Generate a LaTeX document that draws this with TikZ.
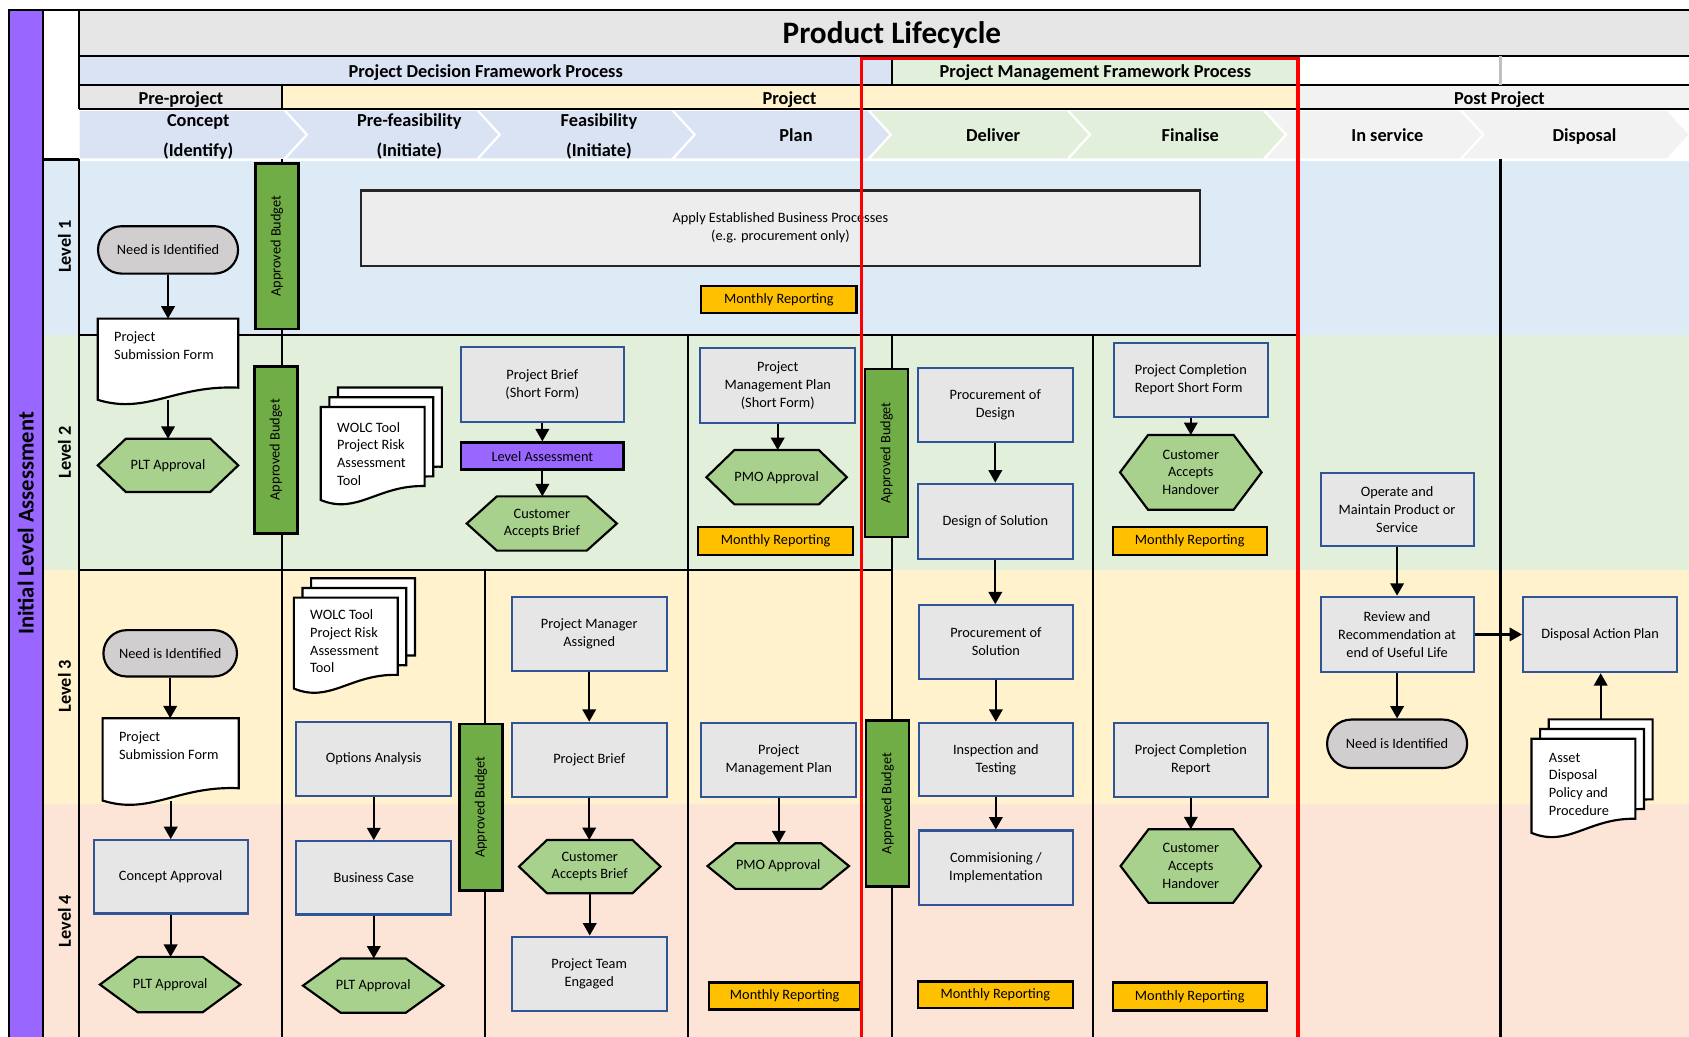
\documentclass[tikz,border=0pt]{standalone}
\usepackage{fontspec}
\setmainfont{Carlito}
\usetikzlibrary{arrows.meta,calc,shapes.misc}
\pgfdeclarelayer{bg}
\pgfdeclarelayer{outline}
\pgfdeclarelayer{front}
\pgfsetlayers{bg,outline,main,front}

\definecolor{lanepurple}{HTML}{9966FF}
\definecolor{titlegray}{HTML}{E6E6E6}
\definecolor{hdrblue}{HTML}{DAE3F3}
\definecolor{hdrgreen}{HTML}{E2EFDA}
\definecolor{hdrgray}{HTML}{E7E6E6}
\definecolor{hdrlight}{HTML}{F2F2F2}
\definecolor{hdryellow}{HTML}{FFF2CC}
\definecolor{laneone}{HTML}{DDEBF7}
\definecolor{lanetwo}{HTML}{E2EFDA}
\definecolor{lanethree}{HTML}{FFF2CC}
\definecolor{lanefour}{HTML}{FCE4D6}
\definecolor{procfill}{HTML}{E7E6E6}
\definecolor{procedge}{HTML}{2F5597}
\definecolor{hexfill}{HTML}{A9D18E}
\definecolor{budgetgreen}{HTML}{70AD47}
\definecolor{reportorange}{HTML}{FFC000}
\definecolor{pillfill}{HTML}{D0CECE}
\definecolor{applyfill}{HTML}{EDEDED}

% single document sheet with a wavy bottom edge
\newcommand\docsheet[1]{%
  \path[docline] (#1.south west) -- (#1.north west) -- (#1.north east)
    -- ($(#1.south east)!0.15!(#1.north east)$)
    .. controls ($(#1.south west)!0.55!(#1.south east)+(0,-14)$)
    and ($(#1.south west)!0.35!(#1.south east)+(0,14)$) .. (#1.south west) -- cycle;}
% stack of three sheets
\newcommand\docstack[1]{%
  \begin{scope}[transform canvas={shift={(16,-18)}}]\docsheet{#1}\end{scope}
  \begin{scope}[transform canvas={shift={(8,-9)}}]\docsheet{#1}\end{scope}
  \docsheet{#1}}
% elongated hexagon around a node
\newcommand\hexshape[2]{%
  \path[hexline] (#1.west) -- ($(#1.north west)+(#2,0)$) -- ($(#1.north east)+(-#2,0)$)
    -- (#1.east) -- ($(#1.south east)+(-#2,0)$) -- ($(#1.south west)+(#2,0)$) -- cycle;}

\begin{document}
\begin{tikzpicture}[x=1pt,y=-1pt,
  sz/.style 2 args={minimum width=#1pt, minimum height=#2pt},
  txt/.style={font=\fontsize{13.3}{16.5}\selectfont, align=center, inner sep=0pt},
  proc/.style={txt, rectangle, fill=procfill, draw=procedge, line width=2pt},
  pill/.style={txt, rounded rectangle, fill=pillfill, draw=black, line width=2pt},
  report/.style={txt, rectangle, fill=reportorange, draw=black, line width=2.2pt},
  budget/.style={txt, rectangle, fill=budgetgreen, draw=black, line width=2.5pt, rotate=90, minimum height=40pt},
  levbox/.style={txt, rectangle, fill=lanepurple, draw=black, line width=2.5pt},
  applybox/.style={txt, rectangle, fill=applyfill, draw=black!85, line width=2.2pt},
  hexn/.style={txt, rectangle},
  docn/.style={rectangle, inner sep=0pt},
  doctext/.style={txt, align=left, anchor=north west},
  hexline/.style={fill=hexfill, draw=black, line width=2pt, line join=miter},
  docline/.style={fill=white, draw=black, line width=2pt},
  arr/.style={-{Triangle[length=11.5pt,width=12.5pt]}, line width=2pt},
  hdr/.style={font=\fontsize{17}{28}\selectfont\bfseries, align=center, inner sep=0pt, anchor=base},
  lvl/.style={font=\fontsize{17}{20}\selectfont\bfseries, rotate=90, inner sep=0pt},
  rule/.style={line width=2pt, draw=black},
]
\useasboundingbox (0,0) rectangle (1568,962);

\begin{pgfonlayer}{bg}
  \fill[white] (0,0) rectangle (1568,962);
  % header rows
  \fill[titlegray] (73,9) rectangle (1575,52);
  \fill[hdrblue] (73,52) rectangle (828,79);
  \fill[hdrgreen] (828,52) rectangle (1205,79);
  \fill[hdrgray] (73,79) rectangle (262,101);
  \fill[hdryellow] (262,79) rectangle (1205,101);
  \fill[hdrlight] (1205,79) rectangle (1575,101);
  % phase chevrons
  \filldraw[fill=hdrblue, draw=white, line width=2pt]
    (73,102) -- (264,102) -- (285,125) -- (264,148) -- (73,148) -- cycle;
  \foreach \xl/\xr/\c in {264/443/hdrblue, 443/624/hdrblue, 624/806/hdrblue,
      806/991/hdrgreen, 991/1173/hdrgreen, 1173/1356/hdrlight, 1356/1548/hdrlight}{
    \filldraw[fill=\c, draw=white, line width=2pt]
      (\xl,102) -- (\xr,102) -- (\xr+21,125) -- (\xr,148) -- (\xl,148) -- (\xl+21,125) -- cycle;
  }
  % swim lanes
  \fill[laneone] (40,149) rectangle (1575,311);
  \fill[lanetwo] (40,311) rectangle (1575,529);
  \fill[lanethree] (40,529) rectangle (1575,746);
  \fill[lanefour] (40,746) rectangle (1575,975);
  % left bar
  \filldraw[fill=lanepurple, draw=black, line width=2pt] (8,9) rectangle (40,980);
  % header rules
  \draw[rule] (8,9) -- (1575,9);
  \draw[rule] (73,52) -- (1575,52);
  \draw[rule] (73,79) -- (1575,79);
  \draw[rule] (73,101) -- (1575,101);
  \draw[rule] (73,9) -- (73,101);
  \draw[rule] (262,79) -- (262,101);
  \draw[rule] (828,52) -- (828,79);
  \draw[line width=2pt, black!25] (1393,52) -- (1393,79);
  \draw[rule] (40,148) -- (73,148);
  % lane rules
  \draw[rule] (73,148) -- (73,975);
  \draw[rule] (262,148) -- (262,975);
  \draw[rule] (450,529) -- (450,975);
  \draw[rule] (639,311) -- (639,975);
  \draw[rule] (828,311) -- (828,975);
  \draw[rule] (1015,311) -- (1015,975);
  \draw[rule] (1393,148) -- (1393,975);
  \draw[rule] (73,311) -- (1205,311);
  \draw[rule] (73,529) -- (828,529);
\end{pgfonlayer}

% ---- header texts
\node[font=\fontsize{21}{24}\selectfont\bfseries, rotate=90, inner sep=0pt] (ila) at (24,486) {Initial Level Assessment};
\node[font=\fontsize{29}{32}\selectfont\bfseries, inner sep=0pt, anchor=base] (ttl) at (828,40.5) {Product Lifecycle};
\node[hdr] (pdfp) at (451,72) {Project Decision Framework Process};
\node[hdr] (pmfp) at (1017,72) {Project Management Framework Process};
\node[hdr] (prep) at (168,97) {Pre-project};
\node[hdr] (proj) at (733,97) {Project};
\node[hdr] (postp) at (1392,97) {Post Project};
\node[hdr] (ph1) at (184,145) {Concept\\(Identify)};
\node[hdr] (ph2) at (380,145) {Pre-feasibility\\(Initiate)};
\node[hdr] (ph3) at (556,145) {Feasibility\\(Initiate)};
\node[hdr] (ph4) at (739,131) {Plan};
\node[hdr] (ph5) at (922,131) {Deliver};
\node[hdr] (ph6) at (1105,131) {Finalise};
\node[hdr] (ph7) at (1288,131) {In service};
\node[hdr] (ph8) at (1471,131) {Disposal};
\node[lvl] (lv1) at (60,229) {Level 1};
\node[lvl] (lv2) at (60,420) {Level 2};
\node[lvl] (lv3) at (60,637) {Level 3};
\node[lvl] (lv4) at (60,855) {Level 4};

% ---- level 1
\node[pill, sz={130}{44}] (need1) at (156,232) {Need is Identified};
\node[docn, sz={130}{75}] (psf1) at (156,333.5) {};
\node[doctext] (psf1t) at ($(psf1.north west)+(15,12)$) {Project\\Submission Form};
\node[hexn, sz={130}{49}] (plt1) at (156,432) {PLT Approval};
\node[budget, minimum width=154pt] (ab1) at (257,228.5) {Approved Budget};
\node[applybox, sz={779}{70}] (apply) at (724.5,211.75) {Apply Established Business Processes\\(e.g. procurement only)};
\node[report, sz={144}{25}] (mr1) at (723,278) {Monthly Reporting};

% ---- level 2
\node[budget, minimum width=155pt] (ab2) at (256,417.5) {Approved Budget};
\node[docn, sz={96}{86}] (wolc2) at (346,421) {};
\node[doctext] (wolc2t) at ($(wolc2.north west)+(15,14)$) {WOLC Tool\\Project Risk\\Assessment\\Tool};
\node[proc, sz={151}{69}] (pbsf) at (503.5,357) {Project Brief\\(Short Form)};
\node[levbox, sz={151}{25}] (levass) at (503.5,423.5) {Level Assessment};
\node[hexn, sz={139}{50}] (cab2) at (503,486) {Customer\\Accepts Brief};
\node[proc, sz={144}{70}] (pmpsf) at (722,358) {Project\\Management Plan\\(Short Form)};
\node[hexn, sz={130}{50}] (pmo2) at (721,443) {PMO Approval};
\node[report, sz={144}{26}] (mr2) at (720,502) {Monthly Reporting};
\node[budget, minimum width=156pt] (ab3) at (823,420.5) {Approved Budget};
\node[proc, sz={144}{68}] (procdes) at (924,376) {Procurement of\\Design};
\node[proc, sz={144}{70}] (design) at (924,484) {Design of Solution};
\node[proc, sz={143}{68}] (pcrsf) at (1105.5,352.75) {\begin{tabular}{@{}l@{}}Project Completion\\Report Short Form\end{tabular}};
\node[hexn, sz={131}{69}] (cah2) at (1105.5,438.5) {Customer\\Accepts\\Handover};
\node[report, sz={143}{26}] (mr3) at (1104.5,502) {Monthly Reporting};
\node[proc, sz={142}{68}] (operate) at (1297,473) {Operate and\\Maintain Product or\\Service};

% ---- level 3 and 4
\node[pill, sz={124}{43}] (need3) at (158,606.5) {Need is Identified};
\node[docn, sz={126}{76}] (psf3) at (158.5,705) {};
\node[doctext] (psf3t) at ($(psf3.north west)+(15,12)$) {Project\\Submission Form};
\node[proc, sz={143}{68}] (concept) at (158.4,814) {Concept Approval};
\node[hexn, sz={130}{51}] (plt3) at (158,914) {PLT Approval};
\node[docn, sz={96}{84}] (wolc3) at (321,597) {};
\node[doctext] (wolc3t) at ($(wolc3.north west)+(15,11)$) {WOLC Tool\\Project Risk\\Assessment\\Tool};
\node[proc, sz={144}{69}] (options) at (347,704.5) {Options Analysis};
\node[proc, sz={144}{68}] (business) at (347,815) {Business Case};
\node[hexn, sz={130}{50}] (plt4) at (346.5,915) {PLT Approval};
\node[budget, minimum width=155pt] (ab4) at (446.5,749.5) {Approved Budget};
\node[proc, sz={144}{69}] (pma) at (547,588.5) {Project Manager\\Assigned};
\node[proc, sz={144}{69}] (pb) at (547,705.5) {Project Brief};
\node[hexn, sz={131}{49}] (cab3) at (547.5,804.5) {Customer\\Accepts Brief};
\node[proc, sz={144}{69}] (pte) at (547,904) {Project Team\\Engaged};
\node[proc, sz={144}{69}] (pmp3) at (723,705.5) {Project\\Management Plan};
\node[hexn, sz={131}{42}] (pmo3) at (722.5,804) {PMO Approval};
\node[report, sz={141}{25}] (mr4) at (728.5,924.5) {Monthly Reporting};
\node[budget, minimum width=154pt] (ab5) at (824,746) {Approved Budget};
\node[proc, sz={143}{68}] (procsol) at (924.5,596) {Procurement of\\Solution};
\node[proc, sz={143}{68}] (insp) at (924.5,705) {Inspection and\\Testing};
\node[proc, sz={143}{69}] (comm) at (924.5,805.5) {Commisioning /\\Implementation};
\node[report, sz={144}{25}] (mr5) at (924,923.5) {Monthly Reporting};
\node[proc, sz={143}{69}] (pcr) at (1105.5,705.5) {Project Completion\\Report};
\node[hexn, sz={130}{68}] (cah3) at (1105.5,804) {Customer\\Accepts\\Handover};
\node[report, sz={143}{26}] (mr6) at (1104.5,925) {Monthly Reporting};
\node[proc, sz={142}{70}] (review) at (1297,589) {Review and\\Recommendation at\\end of Useful Life};
\node[proc, sz={143}{70}] (disposal) at (1485.5,589) {Disposal Action Plan};
\node[pill, sz={130}{45}] (need5) at (1297,690.5) {Need is Identified};
\node[docn, sz={96}{87}] (asset) at (1470,729.5) {};
\node[doctext] (assett) at ($(asset.north west)+(16,13)$) {Asset\\Disposal\\Policy and\\Procedure};
\coordinate (assettop) at ($(asset.north)+(16,-18)$);

% ---- outlines of documents and decision hexagons
\begin{pgfonlayer}{outline}
  \docsheet{psf1}
  \docsheet{psf3}
  \docstack{wolc2}
  \docstack{wolc3}
  \docstack{asset}
  \hexshape{plt1}{26}
  \hexshape{cab2}{28}
  \hexshape{pmo2}{26}
  \hexshape{cah2}{26}
  \hexshape{plt3}{35}
  \hexshape{plt4}{35}
  \hexshape{cab3}{26}
  \hexshape{pmo3}{26}
  \hexshape{cah3}{26}
\end{pgfonlayer}

% ---- flow connectors
\draw[arr] (need1.south) -- (need1.south |- psf1.north);
\draw[arr] (psf1.south) -- (psf1.south |- plt1.north);
\draw[arr] (pbsf.south) -- (pbsf.south |- levass.north);
\draw[arr] (levass.south) -- (levass.south |- cab2.north);
\draw[arr] (pmpsf.south) -- (pmpsf.south |- pmo2.north);
\draw[arr] (procdes.south) -- (procdes.south |- design.north);
\draw[arr] (design.south) -- (design.south |- procsol.north);
\draw[arr] (procsol.south) -- (procsol.south |- insp.north);
\draw[arr] (insp.south) -- (insp.south |- comm.north);
\draw[arr] (pcrsf.south) -- (pcrsf.south |- cah2.north);
\draw[arr] (operate.south) -- (operate.south |- review.north);
\draw[arr] (review.south) -- (review.south |- need5.north);
\draw[arr] (review.east) -- (review.east -| disposal.west);
\draw[arr] (assettop) -- (assettop |- disposal.south);
\draw[arr] (need3.south) -- (need3.south |- psf3.north);
\draw[arr] (psf3.south) -- (psf3.south |- concept.north);
\draw[arr] (concept.south) -- (concept.south |- plt3.north);
\draw[arr] (options.south) -- (options.south |- business.north);
\draw[arr] (business.south) -- (business.south |- plt4.north);
\draw[arr] (pma.south) -- (pma.south |- pb.north);
\draw[arr] (pb.south) -- (pb.south |- cab3.north);
\draw[arr] (cab3.south) -- (cab3.south |- pte.north);
\draw[arr] (pmp3.south) -- (pmp3.south |- pmo3.north);
\draw[arr] (pcr.south) -- (pcr.south |- cah3.north);

% ---- project management framework frame
\begin{pgfonlayer}{front}
  \draw[red, line width=3pt] (800,980) -- (800,54) -- (1205,54) -- (1205,980);
\end{pgfonlayer}
\end{tikzpicture}
\end{document}
